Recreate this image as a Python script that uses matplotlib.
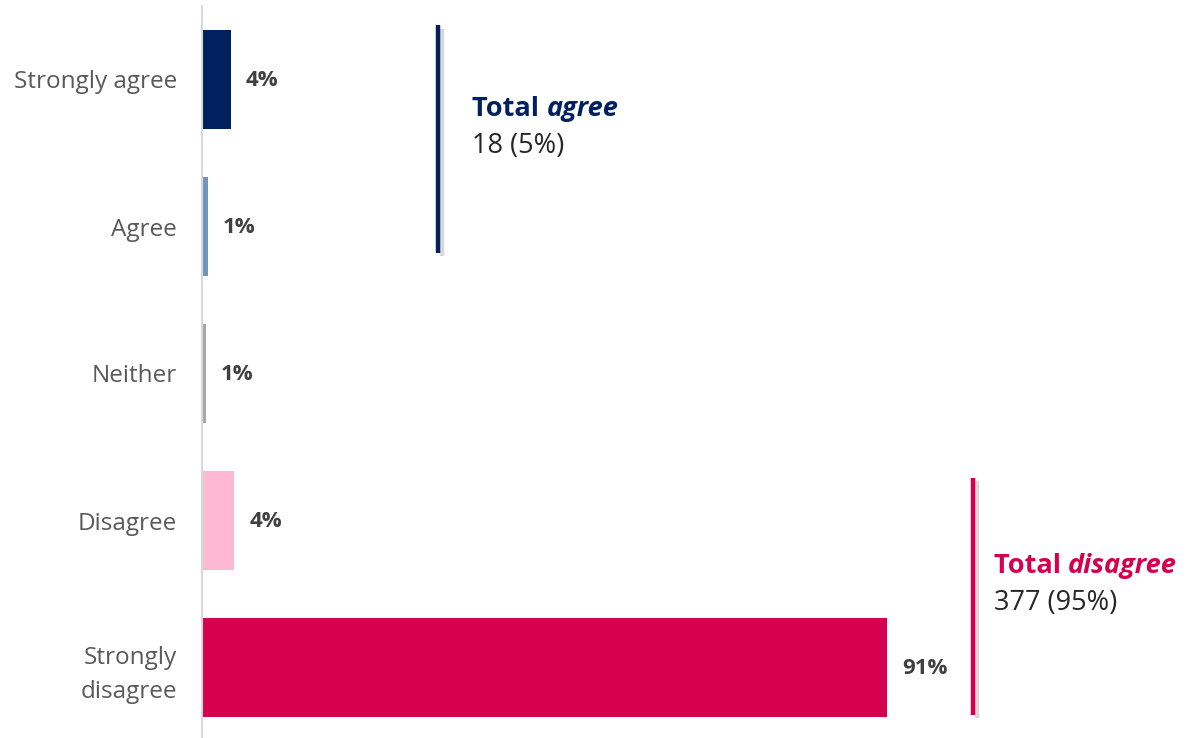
import matplotlib
matplotlib.use("Agg")
import matplotlib.pyplot as plt
import matplotlib.patheffects as pe

plt.rcParams['font.family'] = ['Open Sans', 'DejaVu Sans']

categories = ["Strongly agree", "Agree", "Neither", "Disagree", "Strongly\ndisagree"]
values = [3.8, 0.8, 0.5, 4.3, 90.7]
labels = ["4%", "1%", "1%", "4%", "91%"]
colors = ["#002060", "#7094BE", "#A6A6A6", "#FFB8D2", "#D4004F"]

agree_title, agree_text = "agree", "18 (5%)"
disagree_title, disagree_text = "disagree", "377 (95%)"

fig = plt.figure(figsize=(11.86, 7.38), dpi=100)
ax = fig.add_axes([202 / 1186, -3 / 738, 984 / 1186, 735 / 738])

ypos = list(range(len(categories)))
ax.barh(ypos, values, height=0.667, color=colors)
ax.set_xlim(0, 130.3)
ax.set_ylim(4.5, -0.5)

for y, v, lab in zip(ypos, values, labels):
    ax.text(v + 2.0, y + 0.01, lab, va='center', ha='left', fontsize=16, fontweight='bold', color='#404040')

ax.set_yticks(ypos)
ax.set_yticklabels(categories, fontsize=17.5, color='#595959', linespacing=1.5)
ax.tick_params(axis='y', length=0, pad=18)
ax.set_xticks([])
for s in ['top', 'right', 'bottom']:
    ax.spines[s].set_visible(False)
ax.spines['left'].set_color('#D9D9D9')
ax.spines['left'].set_linewidth(1.5)

shadow = [pe.SimpleLineShadow(offset=(2.5, -2.5), shadow_color='gray', alpha=0.3), pe.Normal()]


def bracket(x, y0, y1, color, title, text, tx, ty):
    ax.plot([x, x], [y0, y1], color=color, lw=3.2, solid_capstyle='butt',
            path_effects=shadow, clip_on=False)
    t1 = ax.text(tx, ty, "Total ", color=color, fontsize=19.5, fontweight='bold',
                 va='bottom', ha='left')
    ax.annotate(title, xy=(1, 0), xycoords=t1, va='bottom', ha='left', color=color,
                fontsize=19.5, fontweight='bold', fontstyle='italic')
    ax.text(tx, ty + 0.065, text, color='#262626', fontsize=19.5, va='top', ha='left')


bracket(31.3, -0.37, 1.18, "#002060", agree_title, agree_text, 35.8, 0.29)
bracket(102.1, 2.71, 4.32, "#D4004F", disagree_title, disagree_text, 104.9, 3.40)

fig.savefig("out.png", dpi=100)
